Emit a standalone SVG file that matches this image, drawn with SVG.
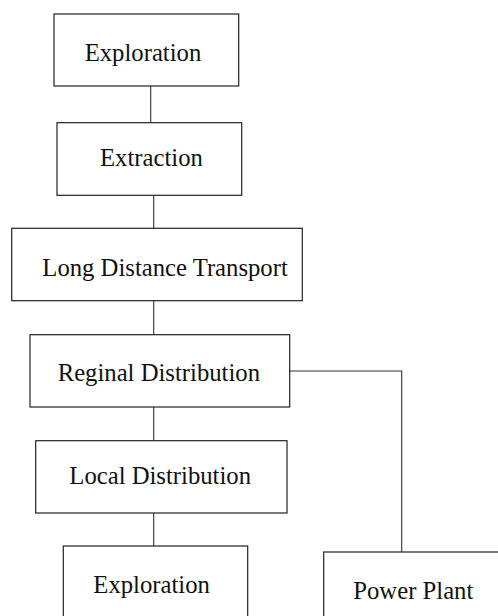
<svg xmlns="http://www.w3.org/2000/svg" width="498" height="616" viewBox="0 0 498 616">
<style>
.box{fill:#fff;stroke:#222;stroke-width:1.2}
.lbl{font-family:"Liberation Serif","Times New Roman",serif;font-size:24.7px;fill:#111}
.con{fill:none;stroke:#333;stroke-width:1.1}
</style>
<rect width="498" height="616" fill="#fff"/>
<g id="connectors">
<line class="con" x1="150.7" y1="86" x2="150.7" y2="122.7"/>
<line class="con" x1="153.7" y1="195.3" x2="153.7" y2="228.3"/>
<line class="con" x1="153.7" y1="300.7" x2="153.7" y2="334.7"/>
<line class="con" x1="153.7" y1="407" x2="153.7" y2="440.7"/>
<line class="con" x1="153.7" y1="513" x2="153.7" y2="546"/>
<polyline class="con" points="289.7,371 401.7,371 401.7,552"/>
</g>
<g id="n1"><rect class="box" x="54" y="14" width="184.7" height="72"/><text class="lbl" x="84.7" y="60.7">Exploration</text></g>
<g id="n2"><rect class="box" x="57" y="122.7" width="184.7" height="72.6"/><text class="lbl" x="100" y="166">Extraction</text></g>
<g id="n3"><rect class="box" x="11.7" y="228.3" width="290.6" height="72.4"/><text class="lbl" x="42.3" y="275.7">Long Distance Transport</text></g>
<g id="n4"><rect class="box" x="30" y="334.7" width="259.7" height="72.3"/><text class="lbl" x="57.7" y="381">Reginal Distribution</text></g>
<g id="n5"><rect class="box" x="35.7" y="440.7" width="251.3" height="72.3"/><text class="lbl" x="69.3" y="484.3">Local Distribution</text></g>
<g id="n6"><rect class="box" x="63.3" y="546" width="184.4" height="100"/><text class="lbl" x="93.3" y="592.7">Exploration</text></g>
<g id="n7"><rect class="box" x="323.7" y="552" width="200" height="100"/><text class="lbl" x="353.3" y="599">Power Plant</text></g>
</svg>
